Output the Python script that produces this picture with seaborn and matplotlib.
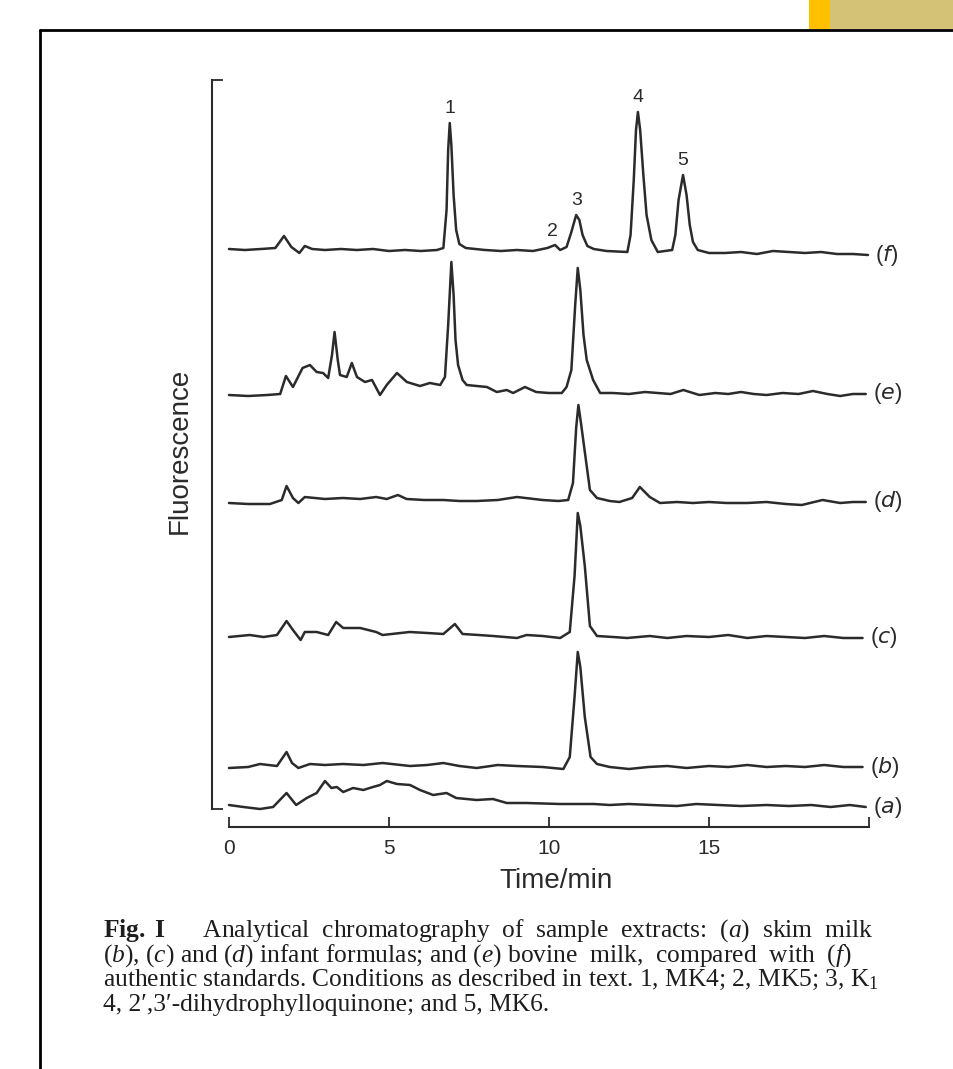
import numpy as np
import pandas as pd
import matplotlib.pyplot as plt
import seaborn as sns
from matplotlib.patches import Rectangle
from matplotlib.lines import Line2D

# =========================================================
# DATA (signal above each baseline)
# =========================================================
time_a = [0, 0.45, 0.97, 1.38, 1.8, 2.1, 2.43, 2.74, 3.0, 3.2, 3.37, 3.57, 3.88, 4.2,
          4.5, 4.72, 4.93, 5.25, 5.66, 5.97, 6.38, 6.8, 7.1, 7.74, 8.25, 8.68, 9.3,
          10.35, 11.4, 11.9, 12.5, 13.2, 14.0, 14.6, 15.3, 16.0, 16.8, 17.5, 18.2,
          18.8, 19.4, 19.9]
sig_a = [0, -2, -4, -2, 12, 0, 7, 12, 24, 17, 18, 13, 17, 15, 18, 20, 24, 21, 20, 15,
         10, 12, 7, 5, 6, 2, 2, 1, 1, 0, 1, 0, -1, 1, 0, -1, 0, -1, 0, -2, 0, -2]

time_b = [0, 0.6, 0.97, 1.5, 1.8, 1.97, 2.17, 2.53, 3.0, 3.56, 4.2, 4.8, 5.66, 6.2,
          6.7, 7.2, 7.74, 8.4, 9.0, 9.8, 10.45, 10.65, 10.8, 10.9, 10.98, 11.12, 11.3,
          11.5, 11.9, 12.5, 13.1, 13.7, 14.3, 15.0, 15.6, 16.2, 16.8, 17.4, 18.0, 18.6,
          19.2, 19.8]
sig_b = [-1, 0, 3, 1, 15, 4, -1, 3, 2, 3, 2, 4, 1, 2, 4, 1, -1, 2, 1, 0, -2, 10, 70,
         115, 100, 50, 10, 3, 0, -2, 0, 1, -1, 1, 0, 2, 0, 1, 0, 2, 0, 0]

time_c = [0, 0.65, 1.08, 1.5, 1.8, 2.0, 2.24, 2.37, 2.74, 3.1, 3.35, 3.57, 4.1, 4.6,
          4.8, 5.65, 6.2, 6.7, 7.06, 7.3, 7.8, 8.25, 9.0, 9.3, 9.8, 10.35, 10.65, 10.8,
          10.9, 10.98, 11.12, 11.28, 11.5, 12.0, 12.44, 13.15, 13.7, 14.3, 15.0, 15.6,
          16.2, 16.8, 17.4, 18.0, 18.6, 19.2, 19.8]
sig_c = [-1, 1, -1, 1, 15, 6, -4, 4, 4, 1, 14, 8, 8, 4, 1, 4, 3, 2, 12, 2, 1, 0, -2,
         1, 0, -2, 4, 60, 123, 110, 70, 10, 0, -1, -2, 0, -2, 0, -1, 1, -2, 0, -1, -2,
         0, -2, -2]

time_d = [0, 0.6, 1.28, 1.65, 1.8, 2.0, 2.17, 2.37, 3.0, 3.56, 4.1, 4.6, 4.93, 5.28,
          5.55, 6.1, 6.7, 7.2, 7.74, 8.4, 9.0, 9.8, 10.3, 10.6, 10.75, 10.85, 10.92,
          11.0, 11.1, 11.28, 11.5, 11.9, 12.2, 12.6, 12.84, 13.15, 13.47, 14.0, 14.5,
          15.0, 15.55, 16.2, 16.8, 17.4, 17.9, 18.55, 19.1, 19.5, 19.9]
sig_d = [0, -1, -1, 3, 17, 5, 0, 6, 4, 5, 4, 6, 4, 8, 4, 3, 3, 2, 2, 3, 6, 3, 2, 3,
         20, 75, 98, 80, 56, 13, 5, 2, 1, 5, 16, 6, 0, 1, 0, 1, 0, 0, 1, -1, -2, 3, 0,
         1, 1]

time_e = [0, 0.6, 1.2, 1.6, 1.78, 2.0, 2.3, 2.53, 2.74, 2.94, 3.1, 3.22, 3.3, 3.4,
          3.47, 3.68, 3.84, 4.0, 4.25, 4.47, 4.72, 4.93, 5.25, 5.56, 5.97, 6.28, 6.6,
          6.75, 6.85, 6.95, 7.02, 7.08, 7.16, 7.3, 7.43, 8.06, 8.37, 8.68, 8.88, 9.25,
          9.6, 10.0, 10.4, 10.55, 10.7, 10.82, 10.9, 10.98, 11.08, 11.18, 11.38, 11.6,
          12.0, 12.5, 13.0, 13.4, 13.8, 14.2, 14.7, 15.2, 15.6, 16.0, 16.4, 16.8, 17.3,
          17.8, 18.25, 18.7, 19.1, 19.5, 19.9]
sig_e = [0, -1, 0, 1, 19, 8, 27, 30, 23, 22, 17, 40, 63, 35, 20, 18, 32, 18, 13, 15,
         0, 10, 22, 13, 9, 12, 10, 18, 70, 133, 100, 55, 30, 15, 10, 8, 3, 5, 2, 8, 3,
         2, 2, 8, 25, 90, 127, 105, 60, 35, 15, 2, 2, 1, 3, 2, 1, 5, 0, 2, 1, 3, 1, 0,
         2, 1, 4, 1, -1, 1, 1]

time_f = [0, 0.5, 1.0, 1.45, 1.72, 1.95, 2.2, 2.37, 2.6, 3.0, 3.5, 4.0, 4.5, 5.0, 5.5,
          6.0, 6.5, 6.7, 6.8, 6.85, 6.9, 6.95, 7.02, 7.1, 7.2, 7.4, 8.0, 8.5, 9.0, 9.5,
          9.95, 10.19, 10.35, 10.55, 10.7, 10.85, 10.95, 11.05, 11.2, 11.4, 11.8, 12.45,
          12.55, 12.65, 12.72, 12.78, 12.85, 12.95, 13.05, 13.2, 13.4, 13.85, 13.95,
          14.05, 14.19, 14.3, 14.4, 14.5, 14.65, 15.0, 15.5, 16.0, 16.5, 17.0, 17.5,
          18.0, 18.5, 19.0, 19.5, 19.97]
sig_f = [1, 0, 1, 2, 14, 3, -3, 4, 1, 0, 1, 0, 1, -1, 0, -1, 0, 2, 40, 100, 127, 105,
         55, 20, 6, 2, 0, -1, 0, -1, 2, 5, 0, 3, 18, 35, 30, 15, 4, 1, -1, -2, 15, 70,
         120, 138, 120, 75, 35, 10, -2, 0, 15, 50, 75, 55, 25, 8, 0, -3, -3, -2, -4,
         -1, -2, -3, -2, -4, -4, -5]

trace_names = ["a", "b", "c", "d", "e", "f"]
trace_times = [time_a, time_b, time_c, time_d, time_e, time_f]
trace_signals = [sig_a, sig_b, sig_c, sig_d, sig_e, sig_f]
trace_offsets = [22, 60, 191, 324, 432, 577]  # vertical stacking of the traces

peak_ids = ["1", "2", "3", "4", "5"]
peak_times = [6.9, 10.12, 10.85, 12.78, 14.19]

caption_lines = [
    r"$\mathbf{Fig.\ I}$      Analytical  chromatography  of  sample  extracts:  ($\mathit{a}$)  skim  milk",
    r"($\mathit{b}$), ($\mathit{c}$) and ($\mathit{d}$) infant formulas; and ($\mathit{e}$) bovine  milk,  compared  with  ($\mathit{f}$)",
    r"authentic standards. Conditions as described in text. 1, MK4; 2, MK5; 3, K$_1$",
    r"4, 2′,3′-dihydrophylloquinone; and 5, MK6.",
]

# long table for seaborn
rows = []
for name, t, s, off in zip(trace_names, trace_times, trace_signals, trace_offsets):
    for ti, si in zip(t, s):
        rows.append({"trace": name, "time": ti, "signal": si + off})
df = pd.DataFrame(rows)

# =========================================================
# STYLE
# =========================================================
sns.set_style("white")
plt.rcParams['font.family'] = ['Liberation Sans', 'DejaVu Sans']
plt.rcParams['mathtext.fontset'] = 'custom'
plt.rcParams['mathtext.rm'] = 'Liberation Serif'
plt.rcParams['mathtext.it'] = 'Liberation Serif:italic'
plt.rcParams['mathtext.bf'] = 'Liberation Serif:bold'

ink = "#2b2b2b"

fig = plt.figure(figsize=(9.54, 10.69), dpi=100)
W, H = 954, 1069
ax = fig.add_axes([212 / W, 1 - 827 / H, 688 / W, 752 / H])

sns.lineplot(data=df, x="time", y="signal", units="trace", estimator=None,
             color=ink, lw=1.8, ax=ax, legend=False, sort=False)

ax.set_xlim(-0.53, 20.97)
ax.set_ylim(0, 752)

# axes: bottom time axis and a bracket-like left spine
for sp in ["top", "right"]:
    ax.spines[sp].set_visible(False)
ax.spines["bottom"].set_bounds(0, 20)
ax.spines["left"].set_bounds(18, 747)
for sp in ["bottom", "left"]:
    ax.spines[sp].set_color(ink)
    ax.spines[sp].set_linewidth(1.5)

ax.set_xticks([0, 5, 10, 15, 20])
ax.set_xticklabels(["0", "5", "10", "15", ""])
ax.tick_params(axis="x", bottom=True, direction="in", length=7, width=1.3, color=ink,
               labelsize=15, labelcolor=ink, pad=9)
ax.set_yticks([18, 747])
ax.set_yticklabels([])
ax.tick_params(axis="y", left=True, direction="in", length=8, width=1.3, color=ink)

ax.set_xlabel("Time/min", fontsize=20, color=ink, labelpad=7)
ax.set_ylabel("Fluorescence", fontsize=20, color=ink, labelpad=10)

# trace labels at the right end of each trace
for name, t, s, off in zip(trace_names, trace_times, trace_signals, trace_offsets):
    ax.annotate(f"($\\mathit{{{name}}}$)", xy=(t[-1], s[-1] + off),
                xytext=(5, 0), textcoords="offset points", ha="left", va="center",
                fontsize=16, color=ink, math_fontfamily="dejavusans")

# peak numbers on the standards trace (f)
for pid, pt in zip(peak_ids, peak_times):
    top = np.interp(pt, time_f, sig_f) + trace_offsets[-1]
    ax.annotate(pid, xy=(pt, top), xytext=(0, 4), textcoords="offset points",
                ha="center", va="bottom", fontsize=14, color=ink)

# caption, one line each on a fixed pitch
for i, line in enumerate(caption_lines):
    fig.text(103 / W, 1 - (937 + 24.5 * i) / H, line, fontsize=18.4, color="#1e1e1e",
             family="Liberation Serif", ha="left", va="baseline")

# page frame and the coloured tab at the top right
fig.add_artist(Line2D([40 / W, 40 / W], [1 - 30 / H, 0], color="black", lw=2,
                      transform=fig.transFigure))
fig.add_artist(Line2D([40 / W, 1], [1 - 30 / H, 1 - 30 / H], color="black", lw=2,
                      transform=fig.transFigure))
fig.add_artist(Rectangle((809 / W, 1 - 29 / H), 21 / W, 29 / H, color="#FFC000",
                         transform=fig.transFigure, lw=0))
fig.add_artist(Rectangle((830 / W, 1 - 29 / H), 124 / W, 29 / H, color="#D4C276",
                         transform=fig.transFigure, lw=0))

fig.savefig("out.png", dpi=100)
plt.close()
